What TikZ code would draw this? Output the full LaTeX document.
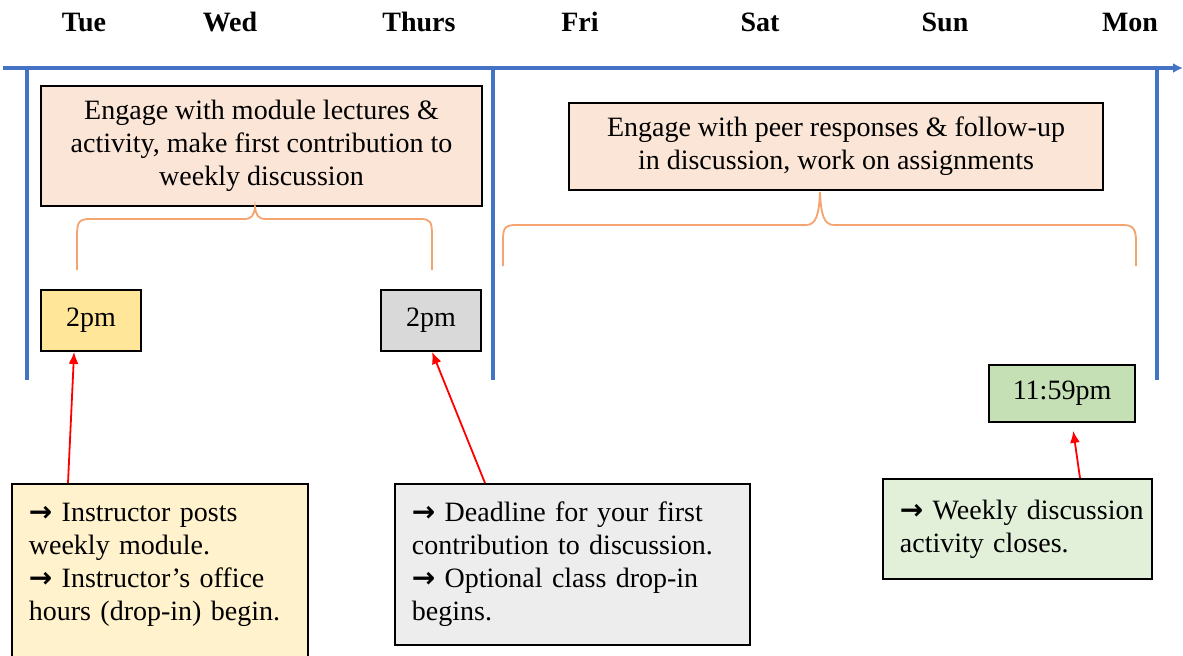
\documentclass[tikz,border=0pt]{standalone}
\usepackage{fontspec}
\setmainfont{Liberation Serif}
\newfontfamily\arrowfont{DejaVu Sans}
\usetikzlibrary{arrows.meta}
\usetikzlibrary{positioning}
\definecolor{AxisBlue}{HTML}{4472C4}
\definecolor{BraceOrange}{HTML}{F4A46E}
\definecolor{EngageFill}{HTML}{FBE5D6}
\definecolor{TueFill}{HTML}{FFE699}
\definecolor{ThuFill}{HTML}{D9D9D9}
\definecolor{MonFill}{HTML}{C5E0B4}
\definecolor{TueNote}{HTML}{FFF2CC}
\definecolor{ThuNote}{HTML}{EDEDED}
\definecolor{MonNote}{HTML}{E2F0D9}
\newcommand{\notearrow}{{\arrowfont\bfseries →}}

\begin{document}
\begin{tikzpicture}[x=0.5pt,y=-0.5pt,
    every node/.style={font=\fontsize{14}{16.5}\selectfont},
    dayname/.style={font=\fontsize{14}{16.5}\selectfont\bfseries},
    axis/.style={AxisBlue,line width=1.75pt},
    planbox/.style={draw,line width=0.9pt,align=center,inner sep=0pt},
    timebox/.style={draw,line width=0.9pt,inner sep=0pt},
    notebox/.style={draw,line width=0.9pt,align=left,anchor=north west,inner xsep=8.5pt},
    cuearrow/.style={red,line width=0.9pt,-{Latex[length=6pt,width=5pt]}},
    bracepath/.style={BraceOrange,line width=0.9pt}]
    \useasboundingbox (0,0) rectangle (1183,655);
    % days
    \node[dayname] (tue) at (84,22) {Tue};
    \node[dayname] (wed) at (230,22) {Wed};
    \node[dayname] (thu) at (419,22) {Thurs};
    \node[dayname] (fri) at (580,22) {Fri};
    \node[dayname] (sat) at (760,22) {Sat};
    \node[dayname] (sun) at (945,22) {Sun};
    \node[dayname] (mon) at (1130,22) {Mon};
    % time axis
    \draw[axis,-{Latex[length=5pt,width=5pt]}] (3,68) -- (1183,68);
    \draw[axis] (27,68) -- (27,380);
    \draw[axis] (493,68) -- (493,380);
    \draw[axis] (1157,68) -- (1157,380);
    % what to do
    \node[planbox,fill=EngageFill,minimum width=220.5pt,minimum height=60pt] (engageA) at (261.5,146)
        {Engage with module lectures \&\\activity, make first contribution to\\weekly discussion};
    \node[planbox,fill=EngageFill,minimum width=267pt,minimum height=43.5pt] (engageB) at (836,146.5)
        {Engage with peer responses \& follow-up\\in discussion, work on assignments};
    \draw[bracepath] (77,270) -- (77,236) .. controls (77,222) and (79,219) .. (90,219) -- (244,219)
        .. controls (252,219) and (254,215) .. (255,207) .. controls (256,215) and (258,219) .. (266,219)
        -- (420,219) .. controls (431,219) and (432,222) .. (432,236) -- (432,270);
    \draw[bracepath] (503,266) -- (503,240) .. controls (503,228) and (505,225) .. (516,225) -- (806,225)
        .. controls (816,225) and (819,215) .. (820,192) .. controls (821,215) and (824,225) .. (834,225)
        -- (1123,225) .. controls (1134,225) and (1136,230) .. (1136,242) -- (1136,266);
    % times
    \node[timebox,fill=TueFill,minimum width=50pt,minimum height=30.5pt] (twopmA) at (91,320.5) {2pm};
    \node[timebox,fill=ThuFill,minimum width=50pt,minimum height=30.5pt] (twopmB) at (431,320.5) {2pm};
    \node[timebox,fill=MonFill,minimum width=73pt,minimum height=28.5pt] (closeTime) at (1062,393.5) {11:59pm};
    % notes
    \node[notebox,fill=TueNote,text width=131pt,minimum height=94pt] (postNote) at (11,483)
        {\notearrow{} Instructor posts\\weekly module.\\\notearrow{} Instructor’s office\\hours (drop-in) begin.\\\mbox{}};
    \node[notebox,fill=ThuNote,text width=160.5pt,minimum height=80.5pt] (deadlineNote) at (394,483)
        {\notearrow{} Deadline for your first\\contribution to discussion.\\\notearrow{} Optional class drop-in\\begins.};
    \node[notebox,fill=MonNote,text width=117.5pt,minimum height=50pt] (closeNote) at (882,478)
        {\mbox{\notearrow{} Weekly discussion}\\activity closes.};
    \draw[cuearrow] ([xshift=28.5pt]postNote.north west) -- ([xshift=17pt]twopmA.south west);
    \draw[cuearrow] ([xshift=45.5pt]deadlineNote.north west) -- ([xshift=26pt]twopmB.south west);
    \draw[cuearrow,shorten >=4pt] ([xshift=99pt]closeNote.north west) -- ([xshift=42pt]closeTime.south west);
\end{tikzpicture}
\end{document}
